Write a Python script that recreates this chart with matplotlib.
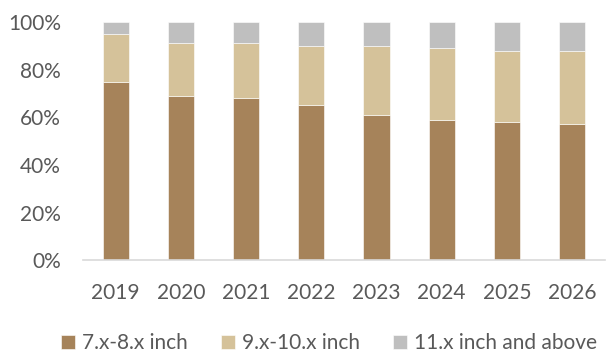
import numpy as np
import matplotlib.pyplot as plt
from matplotlib.ticker import PercentFormatter

years = ['2019', '2020', '2021', '2022', '2023', '2024', '2025', '2026']
small = [75, 69, 68, 65, 61, 59, 58, 57]      # 7.x-8.x inch
medium = [20, 22, 23, 25, 29, 30, 30, 31]     # 9.x-10.x inch
large = [5, 9, 9, 10, 10, 11, 12, 12]         # 11.x inch and above

labels = ['7.x-8.x inch', '9.x-10.x inch', '11.x inch and above']
colors = ['#A6835A', '#D5C29A', '#BFBFBF']

plt.rcParams['font.family'] = ['Lato', 'DejaVu Sans']
fig = plt.figure(figsize=(6.06, 3.54), dpi=100)
ax = fig.add_axes([0.137, 0.265, 0.861, 0.673])

x = np.arange(len(years))
bottom = np.zeros(len(years))
for vals, lab, col in zip([small, medium, large], labels, colors):
    v = np.array(vals) / 100
    ax.bar(x, v, 0.4, bottom=bottom, color=col, label=lab,
           edgecolor='white', linewidth=0.4)
    bottom += v

ax.set_ylim(0, 1)
ax.set_xlim(-0.5, len(years) - 0.5)
ax.set_yticks(np.arange(0, 1.01, 0.2))
ax.yaxis.set_major_formatter(PercentFormatter(1.0, decimals=0))
ax.set_xticks(x)
ax.set_xticklabels(years)
ax.tick_params(axis='both', length=0, labelsize=15, colors='#595959')
ax.tick_params(axis='x', pad=16.5)
ax.tick_params(axis='y', pad=16)
for s in ['top', 'right', 'left']:
    ax.spines[s].set_visible(False)
ax.spines['bottom'].set_color('#D9D9D9')
ax.spines['bottom'].set_linewidth(1.2)

# legend sits just above the bottom edge
fig.legend(loc='center', bbox_to_anchor=(0.543, 0.03), ncol=3,
           frameon=False, borderpad=0.0,
           fontsize=15, labelcolor='#595959', handlelength=0.65, handleheight=0.65,
           columnspacing=1.6, handletextpad=0.35)

fig.savefig('out.png', dpi=100)
